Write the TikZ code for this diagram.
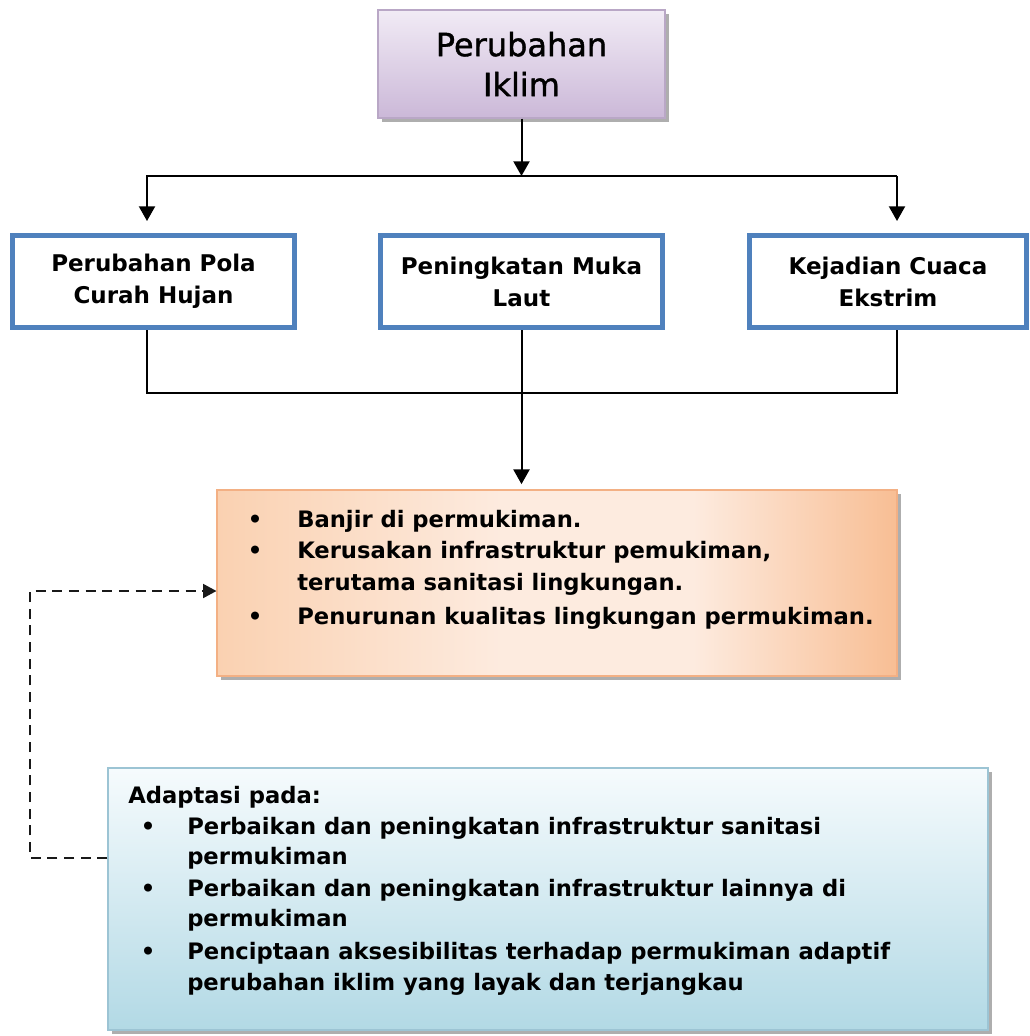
\documentclass[tikz,border=0pt]{standalone}
\usepackage{fontspec}
\setmainfont{DejaVu Sans}
\newfontfamily\titlefont{DejaVu Sans}[FakeBold=1.2]
\usetikzlibrary{arrows.meta,shadows}
\definecolor{boxblue}{HTML}{4F81BD}
\definecolor{purpTop}{HTML}{F1EBF5}
\definecolor{purpBot}{HTML}{CBB8D8}
\definecolor{purpLine}{HTML}{B9A7C6}
\definecolor{orLeft}{HTML}{FAD1B1}
\definecolor{orMid}{HTML}{FDEBDF}
\definecolor{orRight}{HTML}{F8BE94}
\definecolor{orLine}{HTML}{F3B084}
\definecolor{cyTop}{HTML}{F6FBFD}
\definecolor{cyBot}{HTML}{B2D9E5}
\definecolor{cyLine}{HTML}{9CC4D4}
\pgfdeclarehorizontalshading{orshade}{100bp}{color(0bp)=(orLeft); color(25bp)=(orLeft); color(46bp)=(orMid); color(60bp)=(orMid); color(75bp)=(orRight); color(100bp)=(orRight)}
\begin{document}
\begin{tikzpicture}[x=0.75pt,y=-0.75pt,
  shadowed/.style={drop shadow={shadow xshift=3pt,shadow yshift=-3pt,fill=black!45,opacity=0.7}},
  topbox/.style={rectangle,draw=purpLine,line width=0.8pt,top color=purpTop,bottom color=purpBot,
    minimum width=215.25pt,minimum height=81pt,align=center,inner sep=0pt,
    font=\titlefont\fontsize{24}{30}\selectfont,shadowed},
  bluebox/.style={rectangle,draw=boxblue,line width=3.75pt,fill=white,
    minimum height=69pt,align=center,inner sep=0pt,
    font=\fontsize{17.25}{24}\selectfont\bfseries},
  orbox/.style={rectangle,draw=orLine,line width=0.8pt,shading=orshade,
    minimum width=510pt,minimum height=139.5pt,inner sep=0pt,shadowed},
  cybox/.style={rectangle,draw=cyLine,line width=0.8pt,top color=cyTop,bottom color=cyBot,
    minimum width=660pt,minimum height=196.5pt,inner sep=0pt,shadowed},
  body/.style={font=\fontsize{17}{20}\selectfont\bfseries,anchor=base west,inner sep=0pt},
  bul/.style={font=\fontsize{17}{20}\selectfont\bfseries,anchor=base,inner sep=0pt},
  conn/.style={line width=1.5pt,black},
  arr/.style={conn,-{Triangle[width=12pt,length=11pt]}},
  dasharr/.style={line width=1.2pt,black!90,dash pattern=on 7.5pt off 5pt,-{Triangle[width=10.5pt,length=10pt]}}
]
\useasboundingbox (0,0) rectangle (1029,1036);

% boxes
\node[topbox] (pi) at (521.5,64) {Perubahan\\Iklim};
\node[bluebox,minimum width=211.5pt] (b1) at (153.5,281.5) {Perubahan Pola\\Curah Hujan};
\node[bluebox,minimum width=211.5pt] (b2) at (521.5,281.5) {Peningkatan Muka\\Laut};
\node[bluebox,minimum width=207.75pt] (b3) at (888,281.5) {Kejadian Cuaca\\Ekstrim};
\node[orbox] (dmp) at (557,583) {};
\node[cybox] (adp) at (548,899) {};

% junction coordinates
\coordinate (jm) at (521.5,176);
\coordinate (jl) at (147,176);
\coordinate (jr) at (897,176);
\coordinate (bus) at (0,393);
\coordinate (d1) at (30,858);
\coordinate (d2) at (30,591);

% top connectors
\draw[arr] (pi.south) -- (jm);
\draw[arr,shorten >=9pt] (jr) -- (jl) -- (jl |- b1.north);
\draw[arr,shorten >=9pt] (jr) -- (jr |- b3.north);

% bottom connectors
\draw[conn] (jl |- b1.south) -- (jl |- bus) -- (jr |- bus) -- (jr |- b3.south);
\draw[arr,shorten >=4pt] (b2.south) -- (b2.south |- dmp.north);

% dashed feedback
\draw[dasharr] (adp.west |- d1) -- (d1) -- (d2) -- (d2 -| dmp.west);

% orange text
\node[bul] (ob1) at (255,527) {•};
\node[body] (o1) at (297,527) {Banjir di permukiman.};
\node[bul] (ob2) at (255,558) {•};
\node[body] (o2) at (297,558) {Kerusakan infrastruktur pemukiman,};
\node[body] (o3) at (297,590) {terutama sanitasi lingkungan.};
\node[bul] (ob3) at (255,624) {•};
\node[body] (o4) at (297,624) {Penurunan kualitas lingkungan permukiman.};

% blue text
\node[body] (a0) at (128,803) {Adaptasi pada:};
\node[bul] (ab1) at (148,834) {•};
\node[body] (a1) at (187,834) {Perbaikan dan peningkatan infrastruktur sanitasi};
\node[body] (a2) at (187,864) {permukiman};
\node[bul] (ab2) at (148,896) {•};
\node[body] (a3) at (187,896) {Perbaikan dan peningkatan infrastruktur lainnya di};
\node[body] (a4) at (187,926) {permukiman};
\node[bul] (ab3) at (148,959) {•};
\node[body] (a5) at (187,959) {Penciptaan aksesibilitas terhadap permukiman adaptif};
\node[body] (a6) at (187,990) {perubahan iklim yang layak dan terjangkau};
\end{tikzpicture}
\end{document}
